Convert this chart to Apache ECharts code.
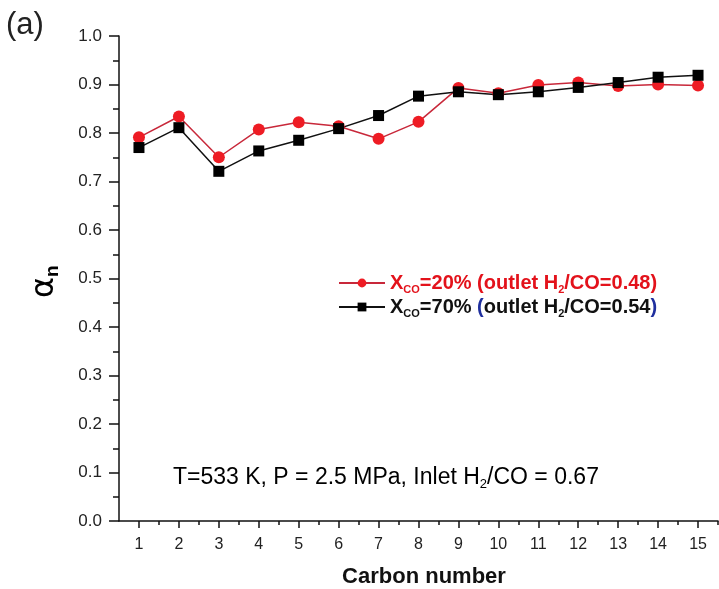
<!DOCTYPE html>
<html>
<head>
<meta charset="utf-8">
<script src="https://cdn.jsdelivr.net/npm/echarts@6/dist/echarts.min.js"></script>
<style>html,body{margin:0;padding:0;background:#fff}#c{width:719px;height:589px}</style>
</head>
<body>
<div id="c"></div>
<script>
var carbonNumbers = [1,2,3,4,5,6,7,8,9,10,11,12,13,14,15];
var xco20 = [0.791,0.834,0.750,0.807,0.822,0.814,0.788,0.823,0.893,0.882,0.899,0.904,0.897,0.900,0.898];
var xco70 = [0.770,0.811,0.721,0.763,0.785,0.809,0.836,0.876,0.885,0.879,0.885,0.894,0.904,0.915,0.919];
var minorXTicks = [1.5,2.5,3.5,4.5,5.5,6.5,7.5,8.5,9.5,10.5,11.5,12.5,13.5,14.5,15.5];
var seriesNames = ['XCO=20% (outlet H2/CO=0.48)', 'XCO=70% (outlet H2/CO=0.54)'];

var FONT = 'Liberation Sans, Arial, sans-serif';
var chart = echarts.init(document.getElementById('c'));

function pairs(ys){ return carbonNumbers.map(function(x,i){return [x, ys[i]];}); }

var legendRich = {
  r:{fontSize:20,fontWeight:'bold',color:'#e3121b',fontFamily:FONT,lineHeight:22},
  rs:{fontSize:11,fontWeight:'bold',color:'#e3121b',fontFamily:FONT,padding:[13,0,0,0],lineHeight:22},
  k:{fontSize:20,fontWeight:'bold',color:'#111',fontFamily:FONT,lineHeight:22},
  ks:{fontSize:11,fontWeight:'bold',color:'#111',fontFamily:FONT,padding:[13,0,0,0],lineHeight:22},
  b:{fontSize:20,fontWeight:'bold',color:'#1f2f9e',fontFamily:FONT,lineHeight:22}
};

chart.setOption({
  animation:false,
  backgroundColor:'#fff',
  grid:{left:119,right:1,top:36,bottom:68,containLabel:false},
  xAxis:[{
    type:'value', min:0.5, max:15.5,
    axisLine:{show:true,onZero:false,lineStyle:{color:'#111',width:1.5}},
    axisTick:{show:true,customValues:carbonNumbers,length:7,lineStyle:{color:'#111',width:1.5}},
    axisLabel:{show:true,customValues:carbonNumbers,fontSize:16,color:'#222',fontFamily:FONT,margin:16},
    splitLine:{show:false}
  },{
    type:'value', min:0.5, max:15.5, position:'bottom',
    axisLine:{show:false},
    axisTick:{show:true,customValues:minorXTicks,length:4,lineStyle:{color:'#111',width:1.5}},
    axisLabel:{show:false},
    splitLine:{show:false}
  }],
  yAxis:{
    type:'value', min:0, max:1.0, interval:0.1,
    axisLine:{show:true,onZero:false,lineStyle:{color:'#111',width:1.5}},
    axisTick:{show:true,length:10,lineStyle:{color:'#111',width:1.5}},
    minorTick:{show:true,splitNumber:2,length:6,lineStyle:{color:'#111',width:1.5}},
    axisLabel:{fontSize:17,color:'#222',fontFamily:FONT,margin:17,formatter:function(v){return v.toFixed(1);}},
    splitLine:{show:false}
  },
  legend:{
    orient:'vertical', left:333, top:266, itemGap:0, itemWidth:46, itemHeight:11,
    data:[{name:seriesNames[0]},{name:seriesNames[1]}],
    formatter:function(n){
      if(n===seriesNames[0]) return '{r|X}{rs|CO}{r|=20% (outlet H}{rs|2}{r|/CO=0.48)}';
      return '{k|X}{ks|CO}{k|=70% }{b|(}{k|outlet H}{ks|2}{k|/CO=0.54}{b|)}';
    },
    textStyle:{rich:legendRich}
  },
  series:[{
    name:seriesNames[0], type:'line', xAxisIndex:0, data:pairs(xco20),
    symbol:'circle', symbolSize:12,
    itemStyle:{color:'#ee1c24'}, lineStyle:{color:'#c8283a',width:1.5}
  },{
    name:seriesNames[1], type:'line', xAxisIndex:0, data:pairs(xco70),
    symbol:'rect', symbolSize:11,
    itemStyle:{color:'#000'}, lineStyle:{color:'#111',width:1.5}
  }],
  graphic:[
    {type:'text', left:6, top:10, style:{text:'(a)', font:'31px '+FONT, fill:'#222'}},
    {type:'text', x:28, y:298, rotation:Math.PI/2, style:{
      text:'{a|α}{n|n}', rich:{
        a:{fontSize:32,fontFamily:'DejaVu Sans, '+FONT,color:'#111'},
        n:{fontSize:19,fontFamily:FONT,fontWeight:'bold',color:'#111',padding:[15,0,0,0]}
      }}},
    {type:'text', left:173, top:466, style:{
      text:'{t|T=533 K, P = 2.5 MPa, Inlet H}{s|2}{t|/CO = 0.67}', rich:{
        t:{fontSize:23,fontFamily:FONT,color:'#222'},
        s:{fontSize:13,fontFamily:FONT,color:'#222',padding:[14,0,0,0]}
      }}},
    {type:'text', x:424, y:566, style:{text:'Carbon number', font:'bold 22px '+FONT, fill:'#111', textAlign:'center'}}
  ]
});
</script>
</body>
</html>
